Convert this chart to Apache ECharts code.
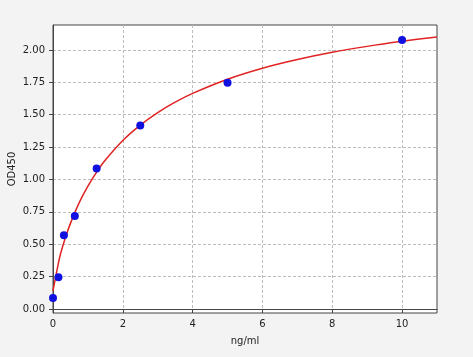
<!DOCTYPE html>
<html><head><meta charset="utf-8">
<script src="https://cdn.jsdelivr.net/npm/echarts@6/dist/echarts.min.js"></script>
<style>html,body{margin:0;padding:0;background:#f3f3f3;}#c{width:473px;height:357px;}</style>
</head><body><div id="c"></div>
<script>
var pointX = [0, 0.156, 0.3125, 0.625, 1.25, 2.5, 5, 10];
var pointY = [0.084, 0.246, 0.569, 0.718, 1.085, 1.417, 1.747, 2.077];
var curveX = [0, 0.05, 0.1, 0.2, 0.3, 0.4, 0.5, 0.6, 0.8, 1.0, 1.25, 1.5, 2, 2.5, 3, 3.5, 4, 5, 6, 7, 8, 9, 10, 11];
var curveY = [0.14, 0.21, 0.28, 0.409, 0.504, 0.587, 0.661, 0.729, 0.848, 0.949, 1.057, 1.150, 1.301, 1.420, 1.517, 1.597, 1.665, 1.774, 1.859, 1.926, 1.982, 2.028, 2.067, 2.101];
var xTicks = [0, 2, 4, 6, 8, 10];
var yTicks = [0, 0.25, 0.5, 0.75, 1.0, 1.25, 1.5, 1.75, 2.0];

var chart = echarts.init(document.getElementById('c'));
var font = 'DejaVu Sans';
chart.setOption({
  animation: false,
  backgroundColor: '#f3f3f3',
  grid: {left: 53, right: 36, top: 25, bottom: 44, outerBoundsMode: 'none', containLabel: false,
    show: true, backgroundColor: '#ffffff', borderColor: '#444', borderWidth: 1},
  xAxis: {
    type: 'value', min: 0, max: 11,
    name: 'ng/ml', nameLocation: 'middle', nameGap: 23, nameMoveOverlap: false,
    nameTextStyle: {fontFamily: font, fontSize: 10, color: '#222'},
    axisLine: {show: true, lineStyle: {color: '#444'}},
    axisTick: {show: true, length: 4, customValues: xTicks, lineStyle: {color: '#444'}},
    axisLabel: {customValues: xTicks, fontFamily: font, fontSize: 10, color: '#222', margin: 6},
    splitLine: {show: true, lineStyle: {color: '#bdbdbd', type: [3, 2], width: 1}}
  },
  yAxis: {
    type: 'value', min: -0.031, max: 2.193,
    name: 'OD450', nameLocation: 'middle', nameGap: 36, nameMoveOverlap: false,
    nameTextStyle: {fontFamily: font, fontSize: 10, color: '#222'},
    axisLine: {show: true, lineStyle: {color: '#444'}},
    axisTick: {show: true, length: 4, customValues: yTicks, lineStyle: {color: '#444'}},
    axisLabel: {customValues: yTicks, fontFamily: font, fontSize: 10, color: '#222', margin: 8,
      formatter: function (v) { return v.toFixed(2); }},
    splitLine: {show: true, lineStyle: {color: '#bdbdbd', type: [3, 2], width: 1}}
  },
  series: [
    {type: 'line', data: curveX.map(function (x, i) { return [x, curveY[i]]; }),
     smooth: 0.3, showSymbol: false, lineStyle: {color: '#e02222', width: 1.5}, z: 2},
    {type: 'scatter', data: pointX.map(function (x, i) { return [x, pointY[i]]; }),
     symbolSize: 8, itemStyle: {color: '#1010e0', opacity: 1}, z: 3}
  ]
});
</script></body></html>
